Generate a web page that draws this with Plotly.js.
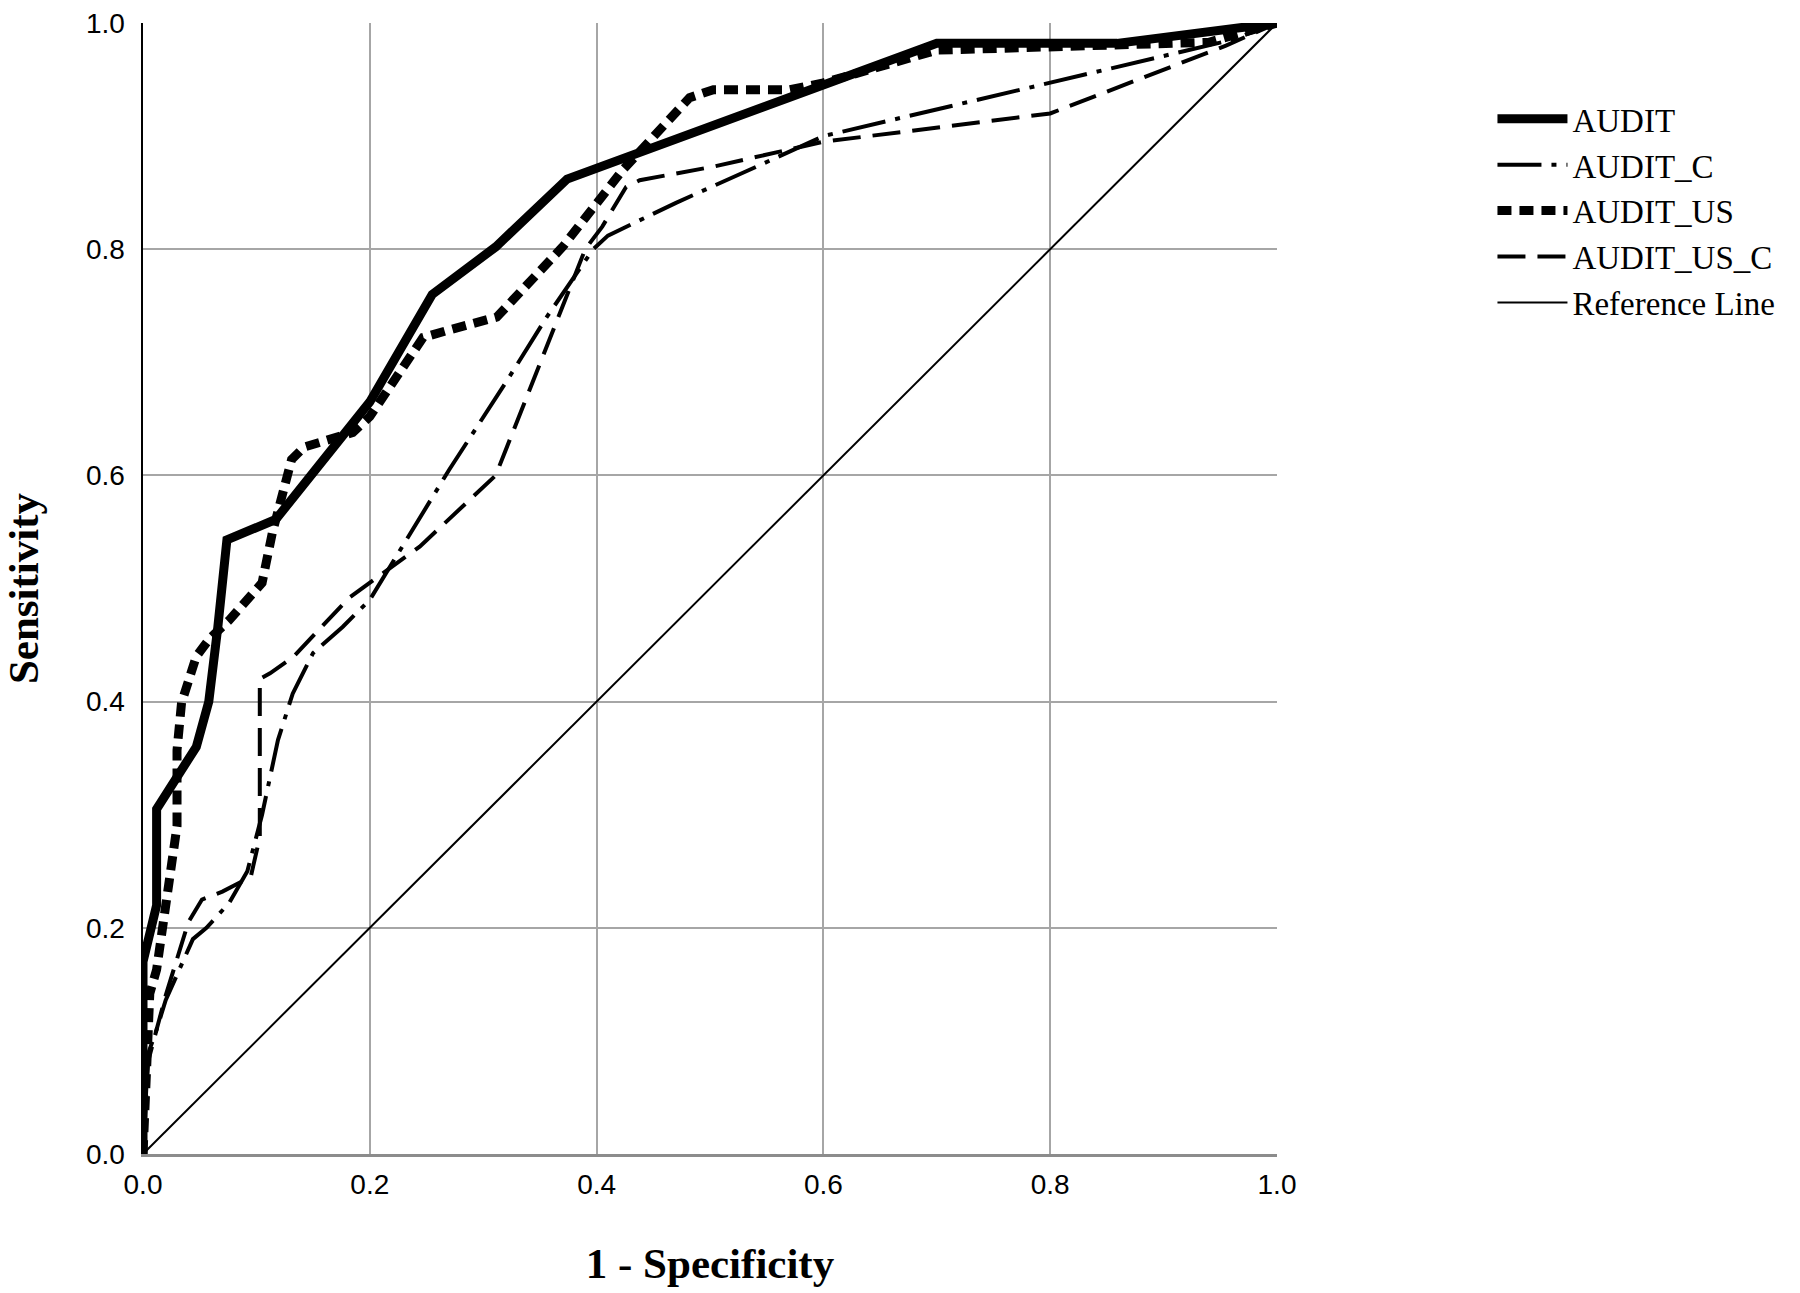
<!DOCTYPE html>
<html>
<head>
<meta charset="utf-8">
<script src="https://cdn.plot.ly/plotly-3.0.1.min.js"></script>
<style>html,body{margin:0;padding:0;background:#fff;}#chart{width:1800px;height:1293px;}</style>
</head>
<body>
<div id="chart"></div>
<script>
// Data
const seriesNames = ["AUDIT", "AUDIT_C", "AUDIT_US", "AUDIT_US_C", "Reference Line"];

const auditX = [0, 0, 0.012, 0.012, 0.047, 0.058, 0.066, 0.074, 0.117, 0.2, 0.255, 0.311, 0.374, 0.7, 0.859, 1];
const auditY = [0, 0.17, 0.22, 0.305, 0.36, 0.40, 0.466, 0.543, 0.561, 0.665, 0.76, 0.802, 0.862, 0.982, 0.982, 1];

const auditCX = [0, 0.005, 0.012, 0.02, 0.044, 0.056, 0.076, 0.092, 0.105, 0.119, 0.132, 0.15, 0.176, 0.2, 0.27, 0.323, 0.356, 0.397, 0.41, 0.47, 0.541, 0.6, 0.96, 1];
const auditCY = [0, 0.09, 0.11, 0.136, 0.19, 0.2, 0.222, 0.25, 0.30, 0.366, 0.407, 0.443, 0.466, 0.49, 0.605, 0.687, 0.74, 0.80, 0.812, 0.841, 0.873, 0.9, 0.985, 1];

const auditUSX = [0, 0.003, 0.006, 0.012, 0.02, 0.03, 0.03, 0.034, 0.047, 0.059, 0.076, 0.105, 0.114, 0.131, 0.142, 0.185, 0.2, 0.247, 0.268, 0.312, 0.37, 0.423, 0.482, 0.503, 0.57, 0.6, 0.7, 0.94, 1];
const auditUSY = [0, 0.10, 0.142, 0.163, 0.22, 0.29, 0.357, 0.399, 0.44, 0.456, 0.472, 0.505, 0.549, 0.614, 0.625, 0.638, 0.652, 0.722, 0.728, 0.74, 0.802, 0.87, 0.934, 0.941, 0.941, 0.947, 0.976, 0.983, 1];

const auditUSCX = [0, 0.004, 0.012, 0.02, 0.04, 0.052, 0.07, 0.095, 0.103, 0.103, 0.112, 0.132, 0.182, 0.244, 0.311, 0.39, 0.405, 0.426, 0.438, 0.503, 0.6, 0.8, 0.955, 1];
const auditUSCY = [0, 0.08, 0.11, 0.14, 0.205, 0.225, 0.232, 0.245, 0.28, 0.42, 0.425, 0.439, 0.492, 0.537, 0.6, 0.8, 0.82, 0.855, 0.861, 0.873, 0.895, 0.92, 0.98, 1];

const refX = [0, 1];
const refY = [0, 1];

const tickVals = [0, 0.2, 0.4, 0.6, 0.8, 1.0];
const tickText = ["0.0", "0.2", "0.4", "0.6", "0.8", "1.0"];

const traces = [
  {x: auditX, y: auditY, name: seriesNames[0], mode: "lines",
   line: {color: "#000", width: 9, shape: "linear"}},
  {x: auditCX, y: auditCY, name: seriesNames[1], mode: "lines",
   line: {color: "#000", width: 4, dash: "44px,10px,5px,10px"}},
  {x: auditUSX, y: auditUSY, name: seriesNames[2], mode: "lines",
   line: {color: "#000", width: 9, dash: "14px,8px"}},
  {x: auditUSCX, y: auditUSCY, name: seriesNames[3], mode: "lines",
   line: {color: "#000", width: 4, dash: "28px,12px"}},
  {x: refX, y: refY, name: seriesNames[4], mode: "lines",
   line: {color: "#000", width: 2}}
];

const tickFont = {family: "Liberation Sans, Arial, sans-serif", size: 28, color: "#000"};
const titleFont = {family: "Liberation Serif, Times New Roman, serif", size: 43, color: "#000", weight: "bold"};

const layout = {
  width: 1800, height: 1293,
  margin: {l: 143, r: 523, t: 23, b: 139, pad: 0},
  paper_bgcolor: "#fff", plot_bgcolor: "#fff",
  showlegend: true,
  legend: {
    x: 1.19, xanchor: "left", y: 0.94, yanchor: "top",
    font: {family: "Liberation Serif, Times New Roman, serif", size: 33, color: "#000"},
    itemwidth: 70, bgcolor: "rgba(0,0,0,0)", borderwidth: 0, tracegroupgap: 0
  },
  xaxis: {
    range: [0, 1], tickvals: tickVals, ticktext: tickText, tickfont: tickFont,
    showgrid: true, gridcolor: "#a6a6a6", gridwidth: 2,
    zeroline: false, showline: true, linecolor: "#8c8c8c", linewidth: 3,
    ticks: "", ticklen: 0, ticklabelstandoff: 3,
    title: {text: "<b>1 - Specificity</b>", font: titleFont, standoff: 50}
  },
  yaxis: {
    range: [0, 1], tickvals: tickVals, ticktext: tickText, tickfont: tickFont,
    showgrid: true, gridcolor: "#a6a6a6", gridwidth: 2,
    zeroline: false, showline: true, linecolor: "#000", linewidth: 2.5,
    ticks: "", ticklen: 0, ticklabelstandoff: 10,
    title: {text: "<b>Sensitivity</b>", font: titleFont, standoff: 46}
  }
};

Plotly.newPlot("chart", traces, layout, {displayModeBar: false, staticPlot: true});
</script>
</body>
</html>
